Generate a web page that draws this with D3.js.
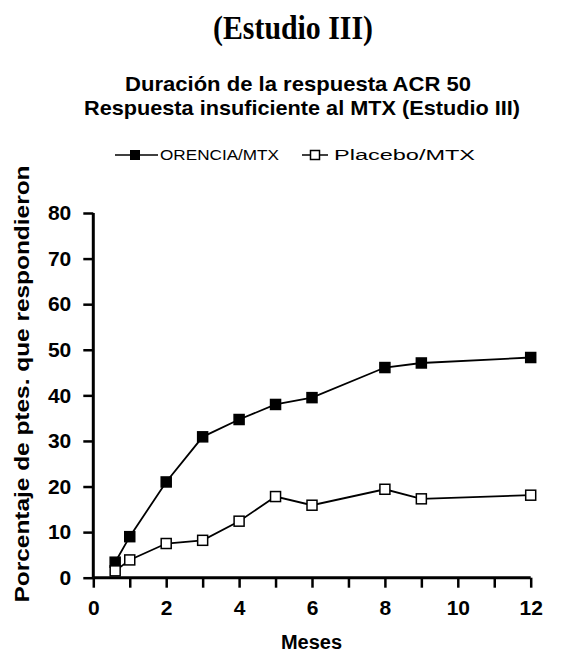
<!DOCTYPE html>
<html>
<head>
<meta charset="utf-8">
<script src="https://d3js.org/d3.v7.min.js"></script>
<style>
  body { margin: 0; background: #fff; }
  text { fill: #000; }
</style>
</head>
<body>
<div id="chart"></div>
<script>
// data
var meses = [0.6, 1, 2, 3, 4, 5, 6, 8, 9, 12];
var orencia = [3.4, 9.0, 21.0, 30.9, 34.7, 38.0, 39.5, 46.1, 47.1, 48.3];
var placebo = [1.5, 3.9, 7.5, 8.2, 12.4, 17.8, 15.9, 19.4, 17.3, 18.1];
var yTicks = [0, 10, 20, 30, 40, 50, 60, 70, 80];
var xTicks = [0, 1, 2, 3, 4, 5, 6, 7, 8, 9, 10, 11, 12];
var xLabels = [0, 2, 4, 6, 8, 10, 12];

var w = 564, h = 654;
var sans = "'Liberation Sans', Arial, sans-serif";
var svg = d3.select("#chart").append("svg")
    .attr("width", w).attr("height", h);

// scales
var x = d3.scaleLinear().domain([0, 12]).range([93.3, 530.7]);
var y = d3.scaleLinear().domain([0, 80]).range([577.7, 213]);

// titles
svg.append("text")
    .attr("x", 213).attr("y", 39)
    .attr("textLength", 160).attr("lengthAdjust", "spacingAndGlyphs")
    .style("font-family", "'Liberation Serif', 'Times New Roman', serif")
    .style("font-weight", "bold").style("font-size", "33px")
    .text("(Estudio III)");

svg.append("text")
    .attr("x", 125).attr("y", 91)
    .attr("textLength", 346).attr("lengthAdjust", "spacingAndGlyphs")
    .style("font-family", sans)
    .style("font-weight", "bold").style("font-size", "21px")
    .text("Duración de la respuesta ACR 50");

svg.append("text")
    .attr("x", 84).attr("y", 115)
    .attr("textLength", 436).attr("lengthAdjust", "spacingAndGlyphs")
    .style("font-family", sans)
    .style("font-weight", "bold").style("font-size", "21px")
    .text("Respuesta insuficiente al MTX (Estudio III)");

// legend
var leg = svg.append("g").attr("class", "legend");
leg.append("line").attr("x1", 115).attr("x2", 158).attr("y1", 155).attr("y2", 155)
    .attr("stroke", "#000").attr("stroke-width", 1.5);
leg.append("rect").attr("x", 130).attr("y", 150).attr("width", 10).attr("height", 10)
    .attr("fill", "#000");
leg.append("text").attr("x", 160).attr("y", 160)
    .attr("textLength", 119).attr("lengthAdjust", "spacingAndGlyphs")
    .style("font-family", sans).style("font-size", "14px")
    .text("ORENCIA/MTX");
leg.append("line").attr("x1", 302).attr("x2", 328).attr("y1", 155).attr("y2", 155)
    .attr("stroke", "#000").attr("stroke-width", 1.5);
leg.append("rect").attr("x", 310.5).attr("y", 150.5).attr("width", 9).attr("height", 9)
    .attr("fill", "#fff").attr("stroke", "#000").attr("stroke-width", 1.5);
leg.append("text").attr("x", 334).attr("y", 160)
    .attr("textLength", 141).attr("lengthAdjust", "spacingAndGlyphs")
    .style("font-family", sans).style("font-size", "14px")
    .text("Placebo/MTX");

// axes
var yAxis = d3.axisLeft(y).tickValues(yTicks).tickSize(10).tickPadding(12);
var yG = svg.append("g").attr("transform", "translate(93.3,0)").call(yAxis);
var xAxis = d3.axisBottom(x).tickValues(xTicks).tickSize(10).tickPadding(12)
    .tickFormat(function(d) { return xLabels.indexOf(d) >= 0 ? d : ""; });
var xG = svg.append("g").attr("transform", "translate(0,577.7)").call(xAxis);

[yG, xG].forEach(function(g) {
  g.select(".domain").attr("stroke-width", 3).attr("stroke", "#000");
  g.selectAll(".tick line").attr("stroke-width", 2.5).attr("stroke", "#000");
  g.selectAll(".tick text")
    .style("font-family", sans)
    .style("font-weight", "bold").style("font-size", "21px").attr("fill", "#000");
});
// d3 adds outer ticks by default, remove them
yG.select(".domain").attr("d", "M0," + y(80) + "V" + y(0));
xG.select(".domain").attr("d", "M" + x(0) + ",0H" + x(12));

// axis titles
svg.append("text")
    .attr("transform", "translate(29,384) rotate(-90)")
    .attr("text-anchor", "middle")
    .attr("textLength", 437).attr("lengthAdjust", "spacingAndGlyphs")
    .style("font-family", sans)
    .style("font-weight", "bold").style("font-size", "21px")
    .text("Porcentaje de ptes. que respondieron");

svg.append("text")
    .attr("x", 311.5).attr("y", 649)
    .attr("text-anchor", "middle")
    .style("font-family", sans)
    .style("font-weight", "bold").style("font-size", "20px")
    .text("Meses");

// lines
var line = d3.line()
    .x(function(d) { return x(d[0]); })
    .y(function(d) { return y(d[1]); });

var series = [
  { vals: orencia, fill: "#000" },
  { vals: placebo, fill: "#fff" }
];
series.forEach(function(s) {
  var pts = meses.map(function(m, i) { return [m, s.vals[i]]; });
  svg.append("path").attr("d", line(pts))
    .attr("fill", "none").attr("stroke", "#000").attr("stroke-width", 1.8);
  svg.selectAll(null).data(pts).enter().append("rect")
    .attr("x", function(d) { return x(d[0]) - 5; })
    .attr("y", function(d) { return y(d[1]) - 5; })
    .attr("width", 10).attr("height", 10)
    .attr("fill", s.fill).attr("stroke", "#000").attr("stroke-width", 1.5);
});
</script>
</body>
</html>
